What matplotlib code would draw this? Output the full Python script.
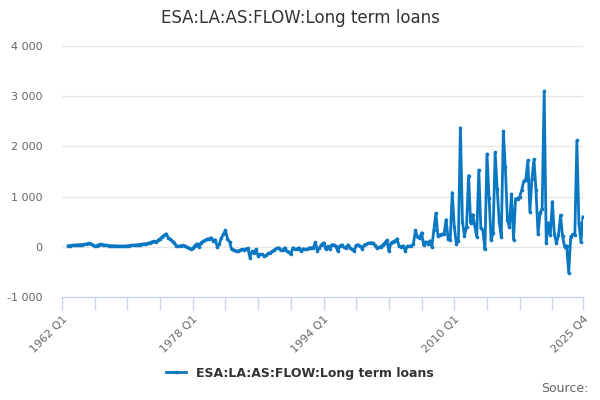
import matplotlib
matplotlib.use("Agg")
import matplotlib.pyplot as plt
import numpy as np

title = "ESA:LA:AS:FLOW:Long term loans"
series_name = "ESA:LA:AS:FLOW:Long term loans"
first_year = 1962
last_year = 2025
first_data_index = 3  # first observation is 1962 Q4

# quarterly values, 1962 Q4 .. 1981 Q4
flow_a = [20, 25, 30, 30, 35, 40, 40, 45, 50, 55,
          70, 60, 40, 10, 20, 45, 50, 40, 35, 30,
          25, 20, 20, 15, 15, 10, 15, 10, 15, 20,
          25, 30, 35, 35, 40, 45, 50, 55, 60, 70,
          80, 100, 110, 90, 130, 160, 200, 230, 260, 180,
          150, 120, 80, 20, 10, 20, 30, 10, -10, -20,
          -50, -30, 20, 60, 0, 80, 110, 130, 150, 160,
          180, 120, 140, 0, 60, 180, 250]
# 1982 Q1 .. 2003 Q1
flow_b = [330, 160, 100, -50, -70, -80, -90, -70, -50, -60,
          -40, -30, -220, -90, -120, -50, -190, -150, -150, -190,
          -170, -130, -120, -90, -60, -30, -20, -70, -70, -20,
          -90, -110, -150, -20, -50, -40, -20, -90, -40, -50,
          -50, -20, -20, -20, 90, -80, -20, 40, 80, -40,
          10, -50, 40, 40, 10, -90, 20, 40, -10, -20,
          40, -20, -50, -90, 30, 40, 10, -40, 40, 50,
          70, 80, 80, 30, -20, -10, 0, 40, 80, 130,
          -90, 80, 100, 120, 160]
# 2003 Q2 .. 2025 Q4
flow_c = [10, 0, 20, -80, 10, 10, 20, 60, 330, 190,
          170, 280, 30, 100, 60, 120, 0, 330, 670, 220,
          240, 250, 260, 540, 150, 130, 1080, 400, 60, 120,
          2370, 500, 220, 400, 1420, 470, 640, 420, 200, 1530,
          370, 330, -50, 1850, 980, 140, 270, 1880, 1150, 500,
          200, 2300, 1580, 540, 390, 1050, 140, 960, 960, 1000,
          1130, 1310, 1340, 1720, 700, 1350, 1740, 1130, 250, 680,
          760, 3100, 80, 480, 230, 900, 250, 70, 230, 630,
          210, 0, 20, -520, 200, 250, 230, 2120, 470, 100,
          600]

y_ticks = [-1000, 0, 1000, 2000, 3000, 4000]
y_tick_labels = ["-1 000", "0", "1 000", "2 000", "3 000", "4 000"]

quarters = [f"{y} Q{q}" for y in range(first_year, last_year + 1) for q in range(1, 5)]
values = np.array(flow_a + flow_b + flow_c, dtype=float)
xpos = np.arange(first_data_index, first_data_index + len(values))

line_color = "#0a77c2"
grid_color = "#e6e6e6"
axis_color = "#ccd6eb"
label_color = "#666666"

fig = plt.figure(figsize=(6, 4), dpi=100)
ax = fig.add_axes([62 / 600, 1 - 297 / 400, (583 - 62) / 600, (297 - 46) / 400])

line, = ax.plot(xpos, values, color=line_color, lw=2, marker="o", ms=2.6,
                markeredgewidth=0, label=series_name, solid_joinstyle="round")

ax.set_xlim(0, len(quarters) - 1)
ax.set_ylim(-1000, 4000)
ax.set_yticks(y_ticks)
ax.set_yticklabels(y_tick_labels, color=label_color, fontsize=8)
ax.tick_params(axis="y", length=0, pad=14)
for yv in y_ticks[1:]:
    ax.axhline(yv, color=grid_color, lw=1, zorder=0)

tick_idx = list(range(0, len(quarters) - 4, 16)) + [len(quarters) - 1]
label_idx = {0, 64, 128, 192, len(quarters) - 1}
ax.set_xticks(tick_idx)
ax.set_xticklabels([quarters[i] if i in label_idx else "" for i in tick_idx],
                   rotation=45, ha="right", va="top", rotation_mode="anchor",
                   color=label_color, fontsize=8)
ax.tick_params(axis="x", length=9, color=axis_color, width=1, pad=3)

for s in ["top", "right", "left"]:
    ax.spines[s].set_visible(False)
ax.spines["bottom"].set_color(axis_color)
ax.spines["bottom"].set_linewidth(1)

fig.text(0.5, 1 - 18 / 400, title, ha="center", va="center", fontsize=12, color="#333333")

leg = fig.legend(handles=[line], loc="center", bbox_to_anchor=(0.5, 1 - 373 / 400),
                 frameon=False, handlelength=1.6, numpoints=1,
                 prop={"weight": "bold", "size": 9})
for t in leg.get_texts():
    t.set_color("#333333")

fig.text(588 / 600, 1 - 389 / 400, "Source:", ha="right", va="center", fontsize=9, color="#666666")

fig.savefig("out.png", dpi=100)
